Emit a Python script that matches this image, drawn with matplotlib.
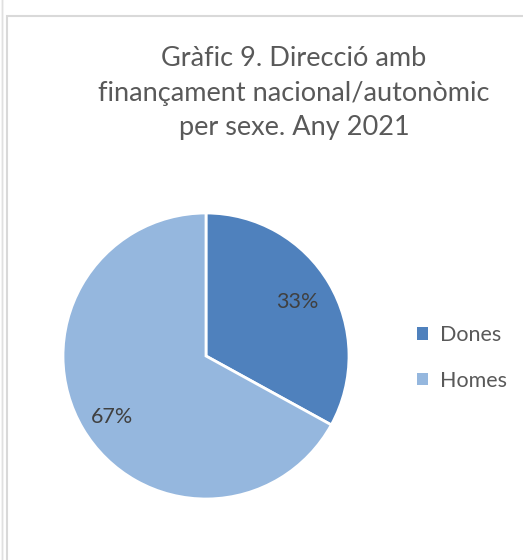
import matplotlib.pyplot as plt
from matplotlib.patches import Rectangle

# data
categories = ['Dones', 'Homes']
values = [33, 67]
colors = ['#4F81BD', '#95B7DE']
title = 'Gràfic 9. Direcció amb\nfinançament nacional/autonòmic\nper sexe. Any 2021'

plt.rcParams['font.family'] = ['Lato', 'DejaVu Sans']

fig = plt.figure(figsize=(5.23, 5.60), dpi=100)

# chart frame
fig.patches.append(Rectangle((7 / 523, -0.01), 1.1, 1 - 16 / 560 + 0.01,
                             transform=fig.transFigure, fill=False,
                             edgecolor='#D9D9D9', linewidth=1.5))
fig.patches.append(Rectangle((2 / 523, -0.01), 0.0, 1.02,
                             transform=fig.transFigure, fill=False,
                             edgecolor='#E0E0E0', linewidth=1.0))

# pie axes: centre (206, 356), radius ~143 px
r = 143
ax = fig.add_axes([(206 - r) / 523, 1 - (356 + r) / 560, 2 * r / 523, 2 * r / 560])
wedges, _ = ax.pie(values, colors=colors, startangle=90, counterclock=False,
                   wedgeprops=dict(edgecolor='white', linewidth=2))
ax.set_aspect('auto')
ax.set_xlim(-1, 1)
ax.set_ylim(-1, 1)

# percentage labels
ax.text(0.64, 0.38, f'{values[0]}%', fontsize=15.5, color='#404040',
        ha='center', va='center')
ax.text(-0.66, -0.43, f'{values[1]}%', fontsize=15.5, color='#404040',
        ha='center', va='center')

fig.text(294 / 523, 1 - 93 / 560, title, fontsize=19.5, color='#595959',
         ha='center', va='center', linespacing=1.45)

leg = fig.legend(wedges, categories, loc='center left',
                 bbox_to_anchor=(398 / 523, 1 - 358 / 560), frameon=False,
                 fontsize=15.5, handlelength=0.5, handleheight=0.5,
                 handletextpad=0.55, labelspacing=1.2, labelcolor='#595959')
for h in leg.legend_handles:
    h.set_edgecolor('none')

fig.savefig('out.png', dpi=100)
